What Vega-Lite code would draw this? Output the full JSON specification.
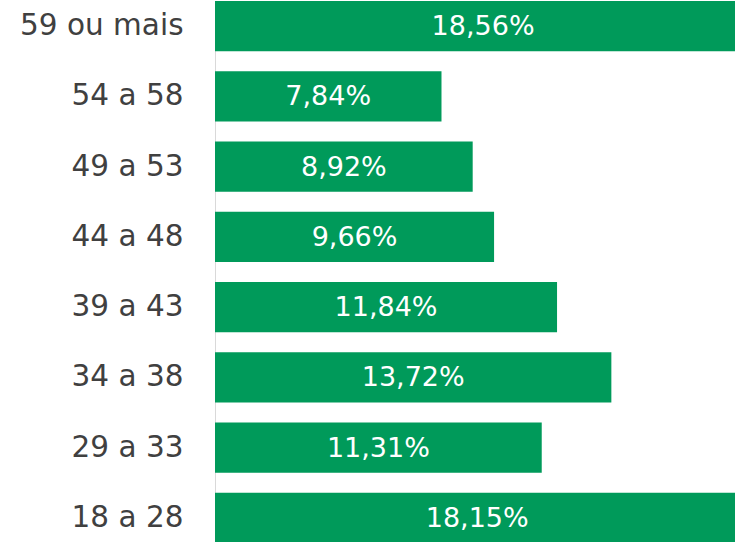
{
  "$schema": "https://vega.github.io/schema/vega-lite/v6.json",
  "autosize": "none",
  "width": 520,
  "height": 542,
  "padding": {"left": 215, "top": 1, "right": 0, "bottom": 0},
  "background": "white",
  "config": {"view": {"stroke": null}},
  "data": {"values": [
    {"faixa": "59 ou mais", "pct": 18.56, "label": "18,56%"},
    {"faixa": "54 a 58", "pct": 7.84, "label": "7,84%"},
    {"faixa": "49 a 53", "pct": 8.92, "label": "8,92%"},
    {"faixa": "44 a 48", "pct": 9.66, "label": "9,66%"},
    {"faixa": "39 a 43", "pct": 11.84, "label": "11,84%"},
    {"faixa": "34 a 38", "pct": 13.72, "label": "13,72%"},
    {"faixa": "29 a 33", "pct": 11.31, "label": "11,31%"},
    {"faixa": "18 a 28", "pct": 18.15, "label": "18,15%"}
  ]},
  "encoding": {
    "y": {
      "field": "faixa", "type": "nominal", "sort": null,
      "scale": {"paddingInner": 0.285, "paddingOuter": 0},
      "axis": {
        "title": null, "ticks": false, "domain": true, "domainColor": "#d9d9d9", "domainWidth": 1,
        "labelFont": "DejaVu Sans", "labelFontSize": 29.5, "labelColor": "#404040",
        "labelPadding": 32, "labelLimit": 300
      }
    }
  },
  "layer": [
    {
      "mark": {"type": "bar", "color": "#009a5a"},
      "encoding": {
        "x": {"field": "pct", "type": "quantitative", "scale": {"domain": [0, 18], "clamp": false, "nice": false}, "axis": null}
      }
    },
    {
      "mark": {"type": "text", "color": "white", "font": "DejaVu Sans", "fontSize": 27, "align": "center", "baseline": "middle", "dy": 1},
      "encoding": {
        "x": {"field": "pct", "type": "quantitative", "scale": {"domain": [0, 36], "clamp": false, "nice": false}, "axis": null},
        "text": {"field": "label"}
      }
    }
  ],
  "resolve": {"scale": {"x": "independent"}}
}
